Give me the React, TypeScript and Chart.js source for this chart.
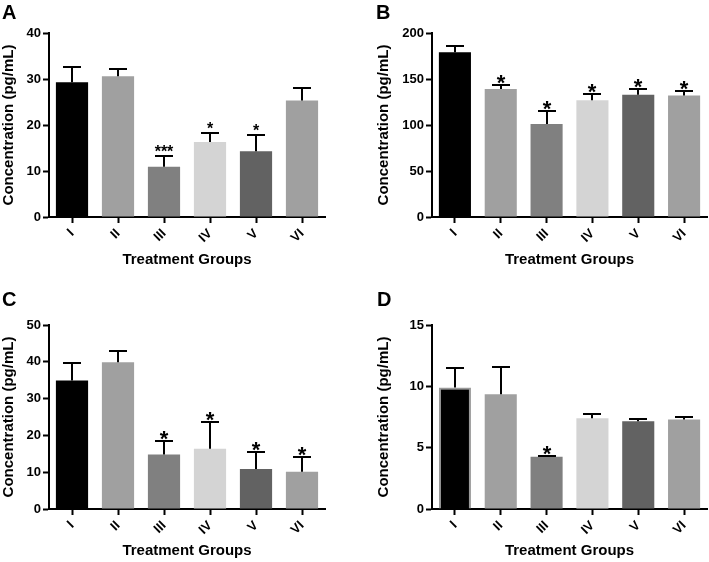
import React, { useEffect, useRef } from "react";
import { Chart, registerables } from "chart.js";
Chart.register(...registerables);

const FONT = "'Liberation Sans', Arial, Helvetica, sans-serif";

const groups = ["I", "II", "III", "IV", "V", "VI"];
const barColors = ["#000000", "#a0a0a0", "#808080", "#d4d4d4", "#626262", "#a0a0a0"];

// Panel A
const meanA = [29.3, 30.6, 10.9, 16.3, 14.3, 25.3];
const semA = [3.4, 1.6, 2.3, 1.9, 3.6, 2.7];
const starsA = ["", "", "***", "*", "*", ""];
const ticksA = [0, 10, 20, 30, 40];

// Panel B
const meanB = [179, 139, 101, 127, 133, 132];
const semB = [6.5, 4, 14, 7, 6, 5];
const starsB = ["", "*", "*", "*", "*", "*"];
const ticksB = [0, 50, 100, 150, 200];

// Panel C
const meanC = [34.9, 39.9, 14.8, 16.4, 10.9, 10.1];
const semC = [4.9, 3.0, 3.7, 7.2, 4.6, 3.9];
const starsC = ["", "", "*", "*", "*", "*"];
const ticksC = [0, 10, 20, 30, 40, 50];

// Panel D
const meanD = [9.9, 9.35, 4.25, 7.4, 7.15, 7.3];
const semD = [1.6, 2.25, 0.05, 0.35, 0.15, 0.2];
const starsD = ["", "", "*", "", "", ""];
const ticksD = [0, 5, 10, 15];

type PanelProps = {
  letter: string;
  mean: number[];
  sem: number[];
  stars: string[];
  yTicks: number[];
  left: number;
  top: number;
  width: number;
  height: number;
  area: { l: number; r: number; t: number; b: number };
  yTitleX: number;
  xTitleBelow: number;
  letterX: number;
  letterY: number;
  starFont: string;
  starDy: number;
  outlineFirst?: boolean;
};

function Panel(p: PanelProps) {
  const ref = useRef<HTMLCanvasElement | null>(null);
  useEffect(() => {
    if (!ref.current) return;
    const xH = p.height - p.area.b;
    const yW = p.area.l;
    const overlay = {
      id: "overlay" + p.letter,
      afterDatasetsDraw(chart: any) {
        const ctx = chart.ctx;
        const meta = chart.getDatasetMeta(0);
        const ys = chart.scales.y;
        ctx.save();
        ctx.strokeStyle = "#000";
        ctx.fillStyle = "#000";
        ctx.lineWidth = 2;
        meta.data.forEach((bar: any, i: number) => {
          const x = Math.round(bar.x);
          const y0 = ys.getPixelForValue(p.mean[i]);
          const y1 = Math.round(ys.getPixelForValue(p.mean[i] + p.sem[i]));
          ctx.beginPath();
          ctx.moveTo(x, y0);
          ctx.lineTo(x, y1);
          ctx.moveTo(x - 9, y1);
          ctx.lineTo(x + 9, y1);
          ctx.stroke();
          if (p.stars[i]) {
            ctx.font = p.starFont;
            ctx.textAlign = "center";
            ctx.textBaseline = "alphabetic";
            ctx.fillText(p.stars[i], x, y1 + p.starDy);
          }
        });
        ctx.font = "bold 20px " + FONT;
        ctx.textAlign = "left";
        ctx.textBaseline = "alphabetic";
        ctx.fillText(p.letter, p.letterX, p.letterY);
        ctx.restore();
      },
    };
    const chart = new Chart(ref.current, {
      type: "bar",
      data: {
        labels: groups,
        datasets: [
          {
            data: p.mean,
            backgroundColor: barColors,
            borderColor: groups.map((_, i) => (i === 0 && p.outlineFirst ? "#9a9a9a" : "rgba(0,0,0,0)")),
            borderWidth: groups.map((_, i) => (i === 0 && p.outlineFirst ? 2 : 0)),
            barPercentage: 0.7,
            categoryPercentage: 1,
          },
        ],
      },
      options: {
        animation: false,
        responsive: false,
        maintainAspectRatio: false,
        layout: { padding: { left: 0, top: p.area.t, right: p.width - p.area.r, bottom: 0 } },
        plugins: { legend: { display: false }, tooltip: { enabled: false } },
        scales: {
          x: {
            offset: true,
            grid: {
              offset: false,
              drawOnChartArea: false,
              drawTicks: true,
              tickLength: 6,
              tickWidth: 2,
              tickColor: "#000",
            },
            border: { display: true, color: "#000", width: 2 },
            ticks: {
              color: "#000",
              font: { family: FONT, size: 13, weight: "bold" },
              minRotation: 45,
              maxRotation: 45,
              autoSkip: false,
              padding: 3,
            },
            title: {
              display: true,
              text: "Treatment Groups",
              color: "#000",
              font: { family: FONT, size: 15, weight: "bold", lineHeight: 1.2 },
              padding: { top: 0, bottom: xH - p.xTitleBelow - 9 },
            },
            afterFit: (s: any) => {
              s.height = xH;
            },
          },
          y: {
            min: p.yTicks[0],
            max: p.yTicks[p.yTicks.length - 1],
            grid: {
              drawOnChartArea: false,
              drawTicks: true,
              tickLength: 6,
              tickWidth: 2,
              tickColor: "#000",
            },
            border: { display: true, color: "#000", width: 2 },
            ticks: {
              stepSize: p.yTicks[1] - p.yTicks[0],
              color: "#000",
              font: { family: FONT, size: 13, weight: "bold" },
              padding: 2,
            },
            title: {
              display: true,
              text: "Concentration (pg/mL)",
              color: "#000",
              font: { family: FONT, size: 15, weight: "bold", lineHeight: 1.2 },
              padding: { top: p.yTitleX - 9, bottom: 0 },
            },
            afterFit: (s: any) => {
              s.width = yW;
            },
          },
        },
      },
      plugins: [overlay],
    } as any);
    return () => chart.destroy();
  }, []);
  return (
    <canvas
      ref={ref}
      width={p.width}
      height={p.height}
      style={{ position: "absolute", left: p.left, top: p.top, width: p.width, height: p.height, display: "block" }}
    />
  );
}

export default function App() {
  const big = "bold 22px " + FONT;
  const small = "bold 16px " + FONT;
  return (
    <div style={{ position: "absolute", left: 0, top: 0, width: 709, height: 562, background: "#fff", overflow: "hidden" }}>
      <Panel letter="A" mean={meanA} sem={semA} stars={starsA} yTicks={ticksA}
        left={0} top={0} width={354} height={280} area={{ l: 49, r: 325, t: 33, b: 217 }}
        yTitleX={9} xTitleBelow={43} letterX={2} letterY={19} starFont={small} starDy={1} />
      <Panel letter="B" mean={meanB} sem={semB} stars={starsB} yTicks={ticksB}
        left={354} top={0} width={355} height={280} area={{ l: 78, r: 353, t: 33, b: 217 }}
        yTitleX={30} xTitleBelow={43} letterX={22} letterY={19} starFont={big} starDy={5} />
      <Panel letter="C" mean={meanC} sem={semC} stars={starsC} yTicks={ticksC}
        left={0} top={280} width={354} height={282} area={{ l: 49, r: 325, t: 45, b: 229 }}
        yTitleX={9} xTitleBelow={42} letterX={2} letterY={26} starFont={big} starDy={5} />
      <Panel letter="D" mean={meanD} sem={semD} stars={starsD} yTicks={ticksD}
        left={354} top={280} width={355} height={282} area={{ l: 78, r: 353, t: 45, b: 229 }}
        yTitleX={30} xTitleBelow={42} letterX={23} letterY={26} starFont={big} starDy={5} outlineFirst />
    </div>
  );
}
